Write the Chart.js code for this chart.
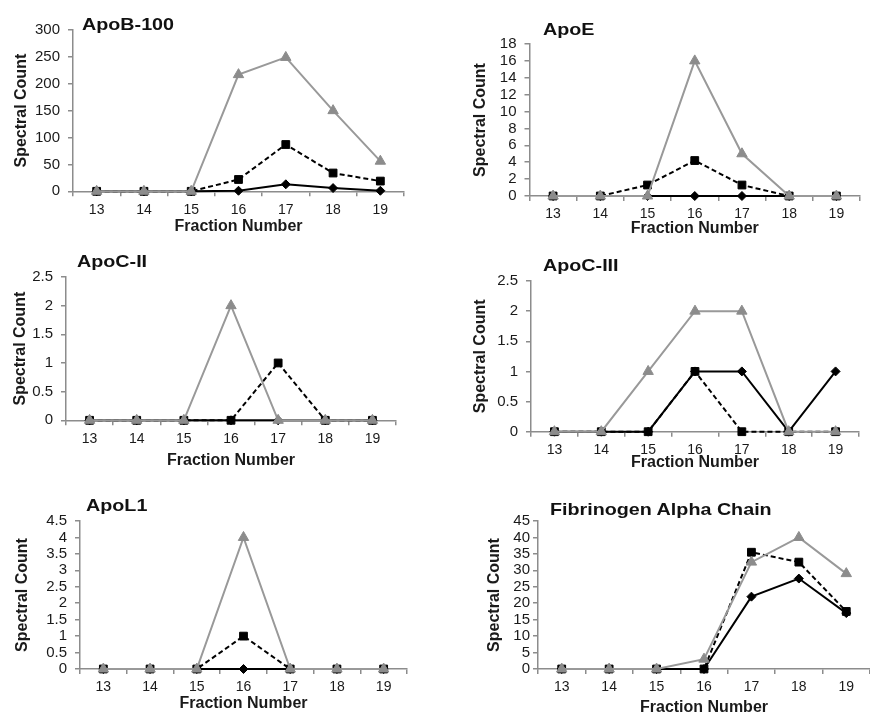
<!DOCTYPE html>
<html><head><meta charset="utf-8">
<script src="https://cdn.jsdelivr.net/npm/chart.js@4.4.0/dist/chart.umd.min.js"></script>
<style>
html,body{margin:0;padding:0;background:#fff;overflow:hidden;}
#wrap{position:relative;width:870px;height:715px;overflow:hidden;background:#fff;}
#wrap canvas{position:absolute;}
.ttl{position:absolute;font-family:"Liberation Sans",Arial,sans-serif;font-weight:bold;font-size:17px;line-height:17px;color:#111;transform:scaleX(1.16);transform-origin:0 0;white-space:nowrap;}
</style></head><body><div id="wrap"></div>
<script>
// ---------- data ----------
const fractions = ['13','14','15','16','17','18','19'];
const xAxisTitle = 'Fraction Number';
const yAxisTitle = 'Spectral Count';
const panelNames = ['ApoB-100','ApoE','ApoC-II','ApoC-III','ApoL1','Fibrinogen Alpha Chain'];
const yMaxes = [300, 18, 2.5, 2.5, 4.5, 45];
const ySteps = [50, 2, 0.5, 0.5, 0.5, 5];

const apoB100Tri = [0,0,0,217,249,150,56];
const apoB100Sq  = [0,0,0,22,87,34,19];
const apoB100Dia = [0,0,0,1,13,6,1];

const apoETri = [0,0,0,16,5,0,0];
const apoESq  = [0,0,1.3,4.2,1.3,0,0];
const apoEDia = [0,0,0,0,0,0,0];

const apoCIITri = [0,0,0,2,0,0,0];
const apoCIISq  = [0,0,0,0,1,0,0];
const apoCIIDia = [0,0,0,0,0,0,0];

const apoCIIITri = [0,0,1,2,2,0,0];
const apoCIIISq  = [0,0,0,1,0,0,0];
const apoCIIIDia = [0,0,0,1,1,0,1];

const apoL1Tri = [0,0,0,4,0,0,0];
const apoL1Sq  = [0,0,0,1,0,0,0];
const apoL1Dia = [0,0,0,0,0,0,0];

const fibTri = [0,0,0,3,32.5,40,29];
const fibSq  = [0,0,0,0,35.5,32.5,17.5];
const fibDia = [0,0,0,0,22,27.5,17];

const panelSeries = [
  [apoB100Tri, apoB100Sq, apoB100Dia],
  [apoETri, apoESq, apoEDia],
  [apoCIITri, apoCIISq, apoCIIDia],
  [apoCIIITri, apoCIIISq, apoCIIIDia],
  [apoL1Tri, apoL1Sq, apoL1Dia],
  [fibTri, fibSq, fibDia]
];

// ---------- layout (positions only) ----------
const boxes = [
  {L:73,  R:411, T:25,    B:191.3, yt:22,  xt:226, tx:82,  ty:16.3,  tp:8},
  {L:529.5,R:867,T:39,    B:196,   yt:481, xt:228, tx:543, ty:20.6,  tp:8},
  {L:66,  R:403, T:272.3, B:420.3, yt:21,  xt:460, tx:77,  ty:252.9, tp:8},
  {L:531, R:866, T:275.7, B:431.7, yt:481, xt:462, tx:543, ty:257.3, tp:8},
  {L:80,  R:414, T:515.7, B:669,   yt:23,  xt:703, tx:86,  ty:497.3, tp:8},
  {L:538, R:877, T:520.7, B:669,   yt:495, xt:707, tx:550, ty:501.3, tp:3}
];

const FAM = '"Liberation Sans", Arial, sans-serif';
const AXIS = '#8c8c8c';
const TXT = '#1a1a1a';
const wrap = document.getElementById('wrap');

function makePanel(i) {
  const b = boxes[i];
  const lh = 16 * 1.2;
  const cLeft = Math.round(b.yt - lh / 2);
  const cTop = Math.round(b.T - 12);
  const cRight = Math.ceil(b.R);
  const cBottom = Math.round(b.xt + lh / 2);
  const cW = cRight - cLeft, cH = cBottom - cTop;
  const canvas = document.createElement('canvas');
  canvas.width = cW; canvas.height = cH;
  canvas.style.left = cLeft + 'px'; canvas.style.top = cTop + 'px';
  canvas.style.width = cW + 'px'; canvas.style.height = cH + 'px';
  wrap.appendChild(canvas);

  const t = document.createElement('div');
  t.className = 'ttl';
  t.textContent = panelNames[i];
  t.style.left = b.tx + 'px'; t.style.top = b.ty + 'px';
  wrap.appendChild(t);

  const [tri, sq, dia] = panelSeries[i];
  new Chart(canvas, {
    type: 'line',
    data: {
      labels: fractions,
      datasets: [
        {data: tri, borderColor:'#999999', borderWidth:2, pointStyle:'triangle', pointRadius:6,
         pointBackgroundColor:'#8c8c8c', pointBorderColor:'#8c8c8c', pointBorderWidth:1, tension:0, clip:false},
        {data: sq, borderColor:'#000', borderWidth:2, borderDash:[5,3], pointStyle:'rect', pointRadius:5.5,
         pointBackgroundColor:'#000', pointBorderColor:'#000', pointBorderWidth:1, tension:0, clip:false},
        {data: dia, borderColor:'#000', borderWidth:2, pointStyle:'rectRot', pointRadius:4.5,
         pointBackgroundColor:'#000', pointBorderColor:'#000', pointBorderWidth:1, tension:0, clip:false}
      ]
    },
    options: {
      responsive:false, animation:false, devicePixelRatio:1,
      layout:{padding:{top: b.T - cTop, left:0, right:0, bottom:0}},
      plugins:{legend:{display:false}, tooltip:{enabled:false}, title:{display:false}},
      scales:{
        x:{
          type:'category', offset:true,
          grid:{offset:true, drawOnChartArea:false, drawTicks:true, tickLength:5, color:AXIS, lineWidth:1.5},
          border:{display:true, color:AXIS, width:1.5},
          ticks:{font:{family:FAM, size:14}, color:TXT, padding:5, autoSkip:false, maxRotation:0},
          title:{display:true, text:xAxisTitle, font:{family:FAM, size:16, weight:'bold'}, color:TXT, padding:0},
          afterFit: s => { s.height = cBottom - b.B; }
        },
        y:{
          min:0, max:yMaxes[i],
          grid:{drawOnChartArea:false, drawTicks:true, tickLength:5, color:AXIS, lineWidth:1.5},
          border:{display:true, color:AXIS, width:1.5},
          ticks:{stepSize:ySteps[i], autoSkip:false, padding:b.tp, font:{family:FAM, size:15}, color:TXT,
                 callback: v => String(Math.round(v * 100) / 100)},
          title:{display:true, text:yAxisTitle, font:{family:FAM, size:16, weight:'bold'}, color:TXT, padding:0},
          afterFit: s => { s.width = b.L - cLeft; }
        }
      }
    }
  });
}
for (let i = 0; i < boxes.length; i++) makePanel(i);
</script>
</body></html>
